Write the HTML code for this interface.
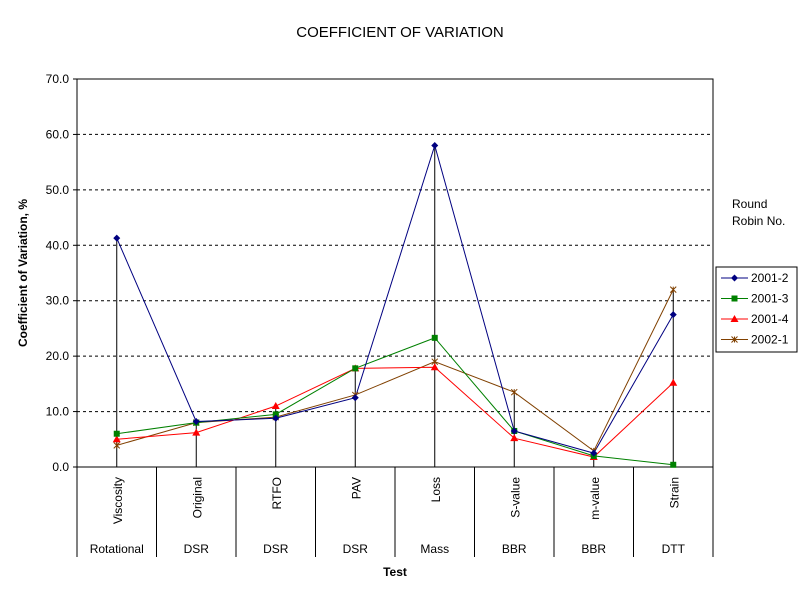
<!DOCTYPE html>
<html><head><style>body{margin:0;background:#fff}svg{display:block}text{font-family:"Liberation Sans",Arial,sans-serif}</style></head>
<body>
<svg id="s" width="800" height="600" xmlns="http://www.w3.org/2000/svg"></svg>
<script>
const s=document.getElementById('s');let h='';
const X0=77,X1=713,Y0=467,Y1=79;const cw=(X1-X0)/8;
const y=v=>Y0-v*(Y0-Y1)/70, x=i=>X0+cw*(i+0.5);
h+='<text x="400" y="37" font-size="15" text-anchor="middle">COEFFICIENT OF VARIATION</text>';
for(let v=10;v<=70;v+=10)h+=`<line x1="${X0}" x2="${X1}" y1="${y(v)}" y2="${y(v)}" stroke="#000" stroke-dasharray="3,3"/>`;
h+=`<rect x="${X0}" y="${Y1}" width="${X1-X0}" height="${Y0-Y1}" fill="none" stroke="#000"/>`;
for(let v=0;v<=70;v+=10){h+=`<line x1="${X0-4}" x2="${X0}" y1="${y(v)}" y2="${y(v)}" stroke="#000"/><text x="${X0-8}" y="${y(v)+4}" font-size="12" text-anchor="end">${v.toFixed(1)}</text>`;}
const tests=['Viscosity','Original','RTFO','PAV','Loss','S-value','m-value','Strain'];
const grp=['Rotational','DSR','DSR','DSR','Mass','BBR','BBR','DTT'];
for(let i=0;i<=8;i++){const xx=X0+cw*i;h+=`<line x1="${xx}" x2="${xx}" y1="${Y0}" y2="557" stroke="#000"/>`;}
for(let i=0;i<8;i++){h+=`<text transform="translate(${x(i)+5},${477}) rotate(-90)" font-size="12" text-anchor="end">${tests[i]}</text><text x="${x(i)}" y="553" font-size="12" text-anchor="middle">${grp[i]}</text>`;}
h+='<text x="395" y="576" font-size="12" font-weight="bold" text-anchor="middle">Test</text>';
h+='<text transform="translate(27,273) rotate(-90)" font-size="12" font-weight="bold" text-anchor="middle">Coefficient of Variation, %</text>';
const D=[[41.3,8.2,8.8,12.5,58.0,6.5,2.5,27.5],[6.0,8.0,9.5,17.8,23.3,6.5,2.0,0.4],[5.0,6.2,11.0,17.8,18.0,5.2,1.8,15.2],[3.9,8.0,9.0,13.0,19.0,13.5,2.9,32.0]];
const C=['#000080','#008000','#ff0000','#804000'];
for(let i=0;i<8;i++){const m=Math.max(...D.map(d=>d[i]));h+=`<line x1="${x(i)}" x2="${x(i)}" y1="${y(m)}" y2="${Y0}" stroke="#000"/>`;}
function mk(k,cx,cy){const c=C[k];if(k==0)return `<polygon points="${cx},${cy-3.5} ${cx+3.5},${cy} ${cx},${cy+3.5} ${cx-3.5},${cy}" fill="${c}"/>`;
if(k==1)return `<rect x="${cx-3}" y="${cy-3}" width="6" height="6" fill="${c}"/>`;
if(k==2)return `<polygon points="${cx},${cy-4} ${cx+4},${cy+3} ${cx-4},${cy+3}" fill="${c}"/>`;
return `<path d="M${cx-3} ${cy-3}L${cx+3} ${cy+3}M${cx-3} ${cy+3}L${cx+3} ${cy-3}M${cx} ${cy-3}V${cy+3}" stroke="${c}"/>`;}
for(let k=3;k>=0;k--){h+=`<polyline fill="none" stroke="${C[k]}" points="${D[k].map((v,i)=>x(i)+','+y(v)).join(' ')}"/>`;}
for(let k=3;k>=0;k--)D[k].forEach((v,i)=>h+=mk(k,x(i),y(v)));
h+='<text x="732" y="208" font-size="12">Round</text><text x="732" y="225" font-size="12">Robin No.</text>';
h+='<rect x="716" y="267" width="81" height="85" fill="#fff" stroke="#000"/>';
const L=['2001-2','2001-3','2001-4','2002-1'];
for(let k=0;k<4;k++){const yy=278+k*20.5;h+=`<line x1="721" x2="748" y1="${yy}" y2="${yy}" stroke="${C[k]}"/>`+mk(k,734.5,yy)+`<text x="751" y="${yy+4}" font-size="12">${L[k]}</text>`;}
s.innerHTML=h;
</script>
</body></html>
